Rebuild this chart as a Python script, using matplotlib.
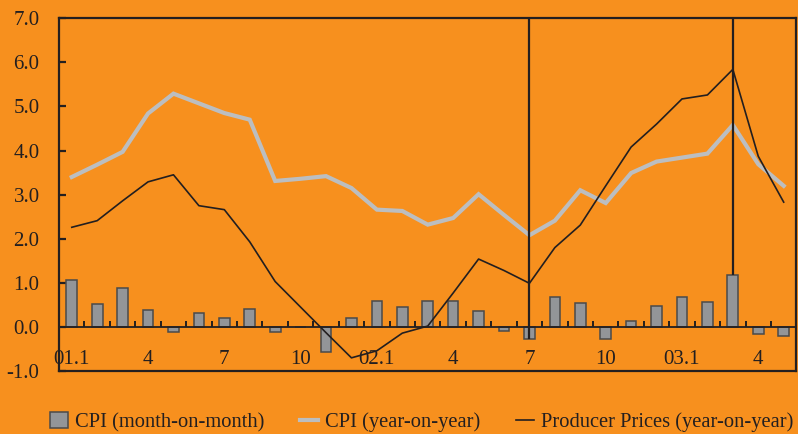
"""China CPI / PPI monthly chart, Jan 2001 - May 2003."""
import numpy as np
import matplotlib
matplotlib.use('Agg')
import matplotlib.pyplot as plt
from matplotlib.patches import Patch
from matplotlib.lines import Line2D

# Jan 2001 .. May 2003 (29 months)
CPI_MOM = [1.07, 0.52, 0.88, 0.38, -0.12, 0.31, 0.20, 0.40, -0.11, 0.0,
           -0.57, 0.20, 0.58, 0.45, 0.60, 0.58, 0.36, -0.10, -0.27, 0.67,
           0.54, -0.27, 0.13, 0.48, 0.67, 0.57, 1.18, -0.17, -0.20]
CPI_YOY = [3.40, 3.68, 3.97, 4.84, 5.29, 5.07, 4.85, 4.70, 3.31, 3.36,
           3.42, 3.15, 2.66, 2.63, 2.32, 2.47, 3.01, 2.54, 2.08, 2.41,
           3.10, 2.81, 3.49, 3.75, 3.84, 3.93, 4.58, 3.69, 3.20]
PPI_YOY = [2.26, 2.41, 2.86, 3.29, 3.45, 2.75, 2.66, 1.93, 1.03, 0.45,
           -0.13, -0.70, -0.54, -0.14, 0.02, 0.77, 1.54, 1.28, 0.99, 1.80,
           2.31, 3.20, 4.08, 4.60, 5.17, 5.26, 5.84, 3.87, 2.83]
MONTH_LABELS = ['01.1', '4', '7', '10', '02.1', '4', '7', '10', '03.1', '4']
MARKER_MONTHS = [18, 26]   # vertical marker lines

ORANGE = '#F7901E'
INK = '#231F20'
BAR_GREY = '#939598'
LINE_GREY = '#BCBEC0'
FONT = 'Liberation Serif'


def main():
    plt.rcParams['font.family'] = FONT
    n = len(CPI_MOM)
    x = np.arange(n)

    fig = plt.figure(figsize=(7.98, 4.34), dpi=100, facecolor=ORANGE)
    ax = fig.add_axes([0.074, 0.145, 0.924, 0.813], facecolor=ORANGE)

    ax.bar(x, CPI_MOM, width=0.42, color=BAR_GREY, edgecolor='#4a4a4a',
           linewidth=1.1, zorder=2)
    ax.plot(x, CPI_YOY, color=LINE_GREY, lw=3.0, zorder=3,
            solid_joinstyle='miter')
    ax.plot(x, PPI_YOY, color=INK, lw=1.2, zorder=4)
    for m in MARKER_MONTHS:
        ax.vlines(m, CPI_MOM[m], 7.0, color=INK, lw=1.6, zorder=5)

    # zero line with small upward ticks between months
    ax.axhline(0, color=INK, lw=1.3, zorder=3)
    ax.vlines(np.arange(n - 1) + 0.5, 0, 0.14, color=INK, lw=1.4, zorder=3)

    for i, lab in enumerate(MONTH_LABELS):
        ax.text(i * 3, -0.74, lab, ha='center', va='center', fontsize=15,
                color=INK)

    ax.set_xlim(-0.5, n - 0.5)
    ax.set_ylim(-1.0, 7.0)
    ax.set_xticks([])
    ax.set_yticks(np.arange(-1, 8))
    ax.set_yticklabels([f'{v:.1f}' for v in np.arange(-1, 8)])
    ax.tick_params(axis='y', direction='in', length=5, width=1.6,
                   labelsize=15, pad=14, colors=INK)
    for s in ax.spines.values():
        s.set_color(INK)
        s.set_linewidth(1.6)

    handles = [
        Patch(facecolor=BAR_GREY, edgecolor='#4a4a4a', linewidth=1.1),
        Line2D([], [], color=LINE_GREY, lw=3.0),
        Line2D([], [], color=INK, lw=1.2),
    ]
    labels = ['CPI (month-on-month)', 'CPI (year-on-year)',
              'Producer Prices (year-on-year)']
    fig.legend(handles, labels, loc='lower left', bbox_to_anchor=(0.050, -0.02),
               ncol=3, frameon=False, fontsize=14.8, handlelength=0.85,
               handleheight=0.85, handletextpad=0.35, columnspacing=1.75,
               borderpad=0, labelcolor=INK)

    fig.savefig('out.png', dpi=100, facecolor=ORANGE)


if __name__ == '__main__':
    main()
